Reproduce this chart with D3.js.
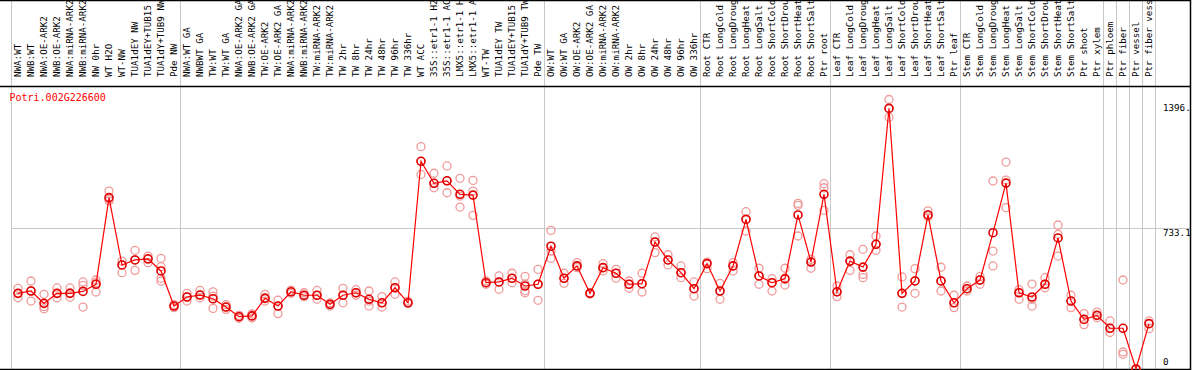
<!DOCTYPE html>
<html>
<head>
<meta charset="utf-8">
<script src="https://cdn.jsdelivr.net/npm/d3@7/dist/d3.min.js"></script>
<style>
  body { margin: 0; background: #fff; }
  text { font-family: "DejaVu Sans Mono", "Liberation Mono", monospace; }
</style>
</head>
<body>
<svg id="canvas" width="1194" height="370"></svg>
<script>
const geneName = "Potri.002G226600"

const categories = [
  "NWA:WT", "NWB:WT", "NWA:OE-ARK2", "NWB:OE-ARK2", "NWA:miRNA-ARK2", "NWB:miRNA-ARK2",
  "NW 0hr", "WT H2O", "WT-NW", "TUA1dEY NW", "TUA1dEY+TUB15", "TUA1dY+TUB9 NW", "Pde NW",
  "NWA:WT GA", "NWBWT GA", "TW:WT", "TW:WT GA", "NWA:OE-ARK2 GA", "NWB:OE-ARK2 GA",
  "TW:OE-ARK2", "TW:OE-ARK2 GA", "NWA:miRNA-ARK2", "NWB:miRNA-ARK2", "TW:miRNA-ARK2",
  "TW:miRNA-ARK2", "TW 2hr", "TW 8hr", "TW 24hr", "TW 48hr", "TW 96hr", "TW 336hr",
  "WT ACC", "35S::etr1-1 H2", "35S::etr1-1 AC", "LMX5::etr1-1 H", "LMX5::etr1-1 A",
  "WT-TW", "TUA1dEY TW", "TUA1dEY+TUB15", "TUA1dY+TUB9 TW", "Pde TW",
  "OW:WT", "OW:WT GA", "OW:OE-ARK2", "OW:OE-ARK2 GA", "OW:miRNA-ARK2", "OW:miRNA-ARK2",
  "OW 2hr", "OW 8hr", "OW 24hr", "OW 48hr", "OW 96hr", "OW 336hr",
  "Root CTR", "Root LongCold", "Root LongDroug", "Root LongHeat", "Root LongSalt",
  "Root ShortCold", "Root ShortDrou", "Root ShortHeat", "Root ShortSalt", "Ptr root",
  "Leaf CTR", "Leaf LongCold", "Leaf LongDroug", "Leaf LongHeat", "Leaf LongSalt",
  "Leaf ShortCold", "Leaf ShortDrou", "Leaf ShortHeat", "Leaf ShortSalt", "Ptr leaf",
  "Stem CTR", "Stem LongCold", "Stem LongDroug", "Stem LongHeat", "Stem LongSalt",
  "Stem ShortCold", "Stem ShortDrou", "Stem ShortHeat", "Stem ShortSalt",
  "Ptr shoot", "Ptr xylem", "Ptr phloem", "Ptr fiber", "Ptr vessel", "Ptr fiber vess"
]

// first category of each experiment block
const groupStarts = [0, 13, 41, 53, 63, 73, 84, 85, 86, 87]

const means = [
  392, 404, 340, 392, 392, 402, 439, 888, 539, 565, 571, 508, 326, 373, 383, 364, 321, 271,
  275, 366, 326, 400, 382, 382, 335, 382, 395, 361, 343, 421, 343, 1076, 962, 975, 905, 901,
  447, 451, 470, 430, 439, 636, 470, 534, 392, 525, 496, 439, 442, 658, 565, 499, 416, 546, 404,
  534, 775, 482, 447, 468, 798, 554, 905, 400, 559, 528, 646, 1350, 392, 456, 798, 456, 343,
  416, 461, 706, 963, 395, 373, 439, 679, 352, 257, 278, 211, 211, 0, 235
]

const replicates = [
  [418, 392, 369], [456, 404, 352], [387, 323, 312], [420, 392, 369], [420, 394, 372],
  [451, 433, 321], [461, 447, 399], [922, 879, 870], [559, 539, 499], [615, 565, 511],
  [585, 568, 551], [573, 530, 470, 455], [334, 326, 318], [392, 373, 352], [407, 383, 369],
  [400, 378, 314], [334, 321, 309], [278, 271, 263], [285, 275, 265], [387, 369, 352],
  [357, 326, 287], [409, 400, 392], [395, 382, 375], [407, 382, 361], [343, 335, 326],
  [418, 382, 343], [411, 395, 382], [404, 352, 326], [375, 343, 321], [451, 421, 387],
  [352, 343, 340], [1152, 1076, 1008], [1014, 962, 939], [1052, 975, 913], [988, 896, 839],
  [977, 922, 796], [456, 447, 439], [482, 451, 413], [496, 470, 447], [480, 440, 405, 395],
  [516, 439, 356], [718, 611, 573], [496, 470, 444], [551, 534, 525], [395, 392, 389],
  [546, 525, 508], [516, 496, 470], [456, 439, 418], [496, 442, 399], [684, 658, 603],
  [592, 565, 539], [534, 499, 473], [451, 416, 378], [554, 546, 520], [444, 404, 361],
  [551, 534, 508], [815, 775, 715], [522, 482, 439], [468, 447, 404], [522, 465, 435],
  [858, 848, 689], [568, 554, 522], [960, 939, 822], [430, 400, 375], [592, 559, 511],
  [620, 490, 473], [689, 646, 615], [1396.3, 1350, 1304], [477, 392, 321], [520, 456, 392],
  [819, 798, 788], [527, 456, 404], [382, 343, 318], [430, 416, 404], [479, 461, 439],
  [974, 611, 534], [1072, 979, 836], [411, 395, 361], [440, 361, 326], [473, 439, 421],
  [746, 698, 585], [382, 352, 318], [287, 257, 230], [295, 278, 266], [249, 211, 189],
  [461, 88, 76], [0, 0, 0], [249, 235, 209]
]

const W = 1194, H = 370
const plotTop = 86, plotBottom = 369, right = 1190
const band = 13, left = 11.5

const svg = d3.select('#canvas')

const maxVal = d3.max(replicates.flat())
const yMax = maxVal * 1.05
const tickVals = [maxVal, yMax / 2, 0]

const x = d3.scaleBand()
  .domain(d3.range(categories.length))
  .range([left, left + band * categories.length])
const cx = i => x(i) + x.bandwidth() / 2

const y = d3.scaleLinear()
  .domain([0, yMax])
  .range([plotBottom, plotTop])

const grid = '#c8c8c8'

// vertical separators between experiment blocks
const sepX = groupStarts.map(i => x(i)).concat([x(categories.length - 1) + band])
svg.append('g').selectAll('line')
  .data(sepX)
  .enter()
  .append('line')
  .attr('x1', d => d).attr('x2', d => d)
  .attr('y1', 0).attr('y2', plotBottom)
  .attr('stroke', grid).attr('stroke-width', 1)

// middle gridline
svg.append('line')
  .attr('x1', left).attr('x2', right)
  .attr('y1', Math.round(y(yMax / 2)) + 0.5).attr('y2', Math.round(y(yMax / 2)) + 0.5)
  .attr('stroke', grid)

// frame
const frame = svg.append('g').attr('stroke', '#000').attr('stroke-width', 1.5)
frame.append('line').attr('x1', 0).attr('x2', right).attr('y1', 0.5).attr('y2', 0.5)
frame.append('line').attr('x1', 0).attr('x2', right).attr('y1', plotTop + 0.5).attr('y2', plotTop + 0.5)
frame.append('line').attr('x1', 0).attr('x2', right).attr('y1', plotBottom + 0.5).attr('y2', plotBottom + 0.5)
frame.append('line').attr('x1', right + 0.5).attr('x2', right + 0.5).attr('y1', 0).attr('y2', H)

// category labels, rotated
svg.append('g').selectAll('text')
  .data(categories)
  .enter()
  .append('text')
  .attr('transform', (d, i) => `translate(${cx(i) + 3.3},77) rotate(-90)`)
  .attr('font-size', 9.2)
  .attr('fill', '#000')
  .text(d => d)

// y labels on the right, fixed 5 char field like the original
svg.append('g').selectAll('text')
  .data(tickVals)
  .enter()
  .append('text')
  .attr('x', 1163)
  .attr('y', d => Math.max(111, Math.min(y(d) + 8, 365)))
  .attr('font-size', 9.2)
  .attr('fill', '#000')
  .text(d => d === 0 ? '0' : d3.format('.1f')(d).slice(0, 5))

// gene name
svg.append('text')
  .attr('x', 9.5).attr('y', 101)
  .attr('font-size', 10)
  .attr('fill', '#ff0000')
  .text(geneName)

// replicate points
const repPts = []
replicates.forEach((r, i) => r.forEach(v => repPts.push({i, v})))
svg.append('g').selectAll('circle')
  .data(repPts)
  .enter()
  .append('circle')
  .attr('cx', d => cx(d.i))
  .attr('cy', d => y(d.v))
  .attr('r', 4)
  .attr('fill', 'none')
  .attr('stroke', '#f09a9a')
  .attr('stroke-width', 1.3)

// mean line
const line = d3.line()
  .x((d, i) => cx(i))
  .y(d => y(d))
svg.append('path')
  .datum(means)
  .attr('d', line)
  .attr('fill', 'none')
  .attr('stroke', '#ff0000')
  .attr('stroke-width', 1.2)

svg.append('g').selectAll('circle')
  .data(means)
  .enter()
  .append('circle')
  .attr('cx', (d, i) => cx(i))
  .attr('cy', d => y(d))
  .attr('r', 4)
  .attr('fill', 'none')
  .attr('stroke', '#e00000')
  .attr('stroke-width', 1.6)
</script>
</body>
</html>
